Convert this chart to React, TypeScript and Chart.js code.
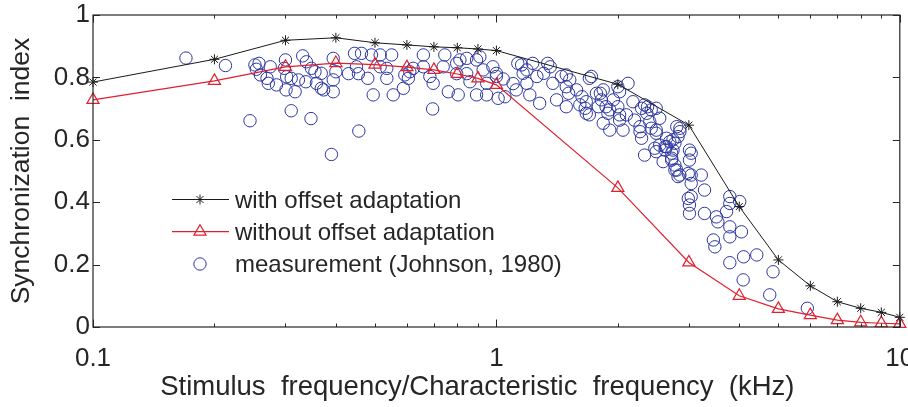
import React, { useEffect, useRef } from 'react';
import { Chart, registerables } from 'chart.js';

Chart.register(...registerables);

// ---------- data ----------
const modelFreq = [0.1, 0.2, 0.3, 0.4, 0.5, 0.6, 0.7, 0.8, 0.9, 1, 2, 3, 4, 5, 6, 7, 8, 9, 10];
const withOffset = [0.785, 0.858, 0.919, 0.927, 0.911, 0.904, 0.898, 0.895, 0.891, 0.886, 0.778, 0.647, 0.386, 0.215, 0.132, 0.081, 0.06, 0.047, 0.031];
const withoutOffset = [0.728, 0.789, 0.834, 0.846, 0.841, 0.833, 0.824, 0.811, 0.797, 0.776, 0.446, 0.207, 0.1, 0.058, 0.038, 0.022, 0.015, 0.012, 0.01];

const measFreq = [
  0.17, 0.213, 0.245, 0.31, 0.347, 0.456, 0.39, 0.695,
  0.252, 0.258, 0.254, 0.26, 0.275, 0.272, 0.285, 0.27, 0.3, 0.298, 0.302, 0.301, 0.317, 0.31, 0.323, 0.337,
  0.331, 0.338, 0.348, 0.355, 0.368, 0.358, 0.368, 0.373, 0.394, 0.394, 0.394,
  0.4, 0.43, 0.445, 0.463, 0.45, 0.455, 0.48, 0.49, 0.515, 0.515, 0.535, 0.535, 0.55, 0.555, 0.495, 0.588,
  0.593, 0.61, 0.605, 0.622, 0.659, 0.659, 0.684, 0.697, 0.745, 0.76, 0.738, 0.797, 0.797, 0.812, 0.804,
  0.844, 0.844, 0.86, 0.893, 0.91, 0.927, 0.946, 0.893, 0.946, 0.98, 1.0, 1.01,
  1.0, 1.04, 1.05, 1.1, 1.12, 1.13, 1.155, 1.165, 1.19, 1.19, 1.21, 1.23, 1.26, 1.28, 1.31, 1.34, 1.36,
  1.38, 1.41, 1.45, 1.49, 1.49, 1.51, 1.52, 1.49, 1.58, 1.61, 1.63, 1.67, 1.7, 1.77, 1.82, 1.84, 1.89, 1.91, 2.0,
  1.72, 1.67, 1.66, 1.7, 1.81, 1.79, 1.91, 1.95, 2.02, 2.02, 2.06, 2.12, 2.1, 2.18, 2.2, 2.27, 2.29, 2.33,
  2.36, 2.4, 2.42, 2.49, 2.49, 2.54, 2.29, 2.33, 2.54, 2.62, 2.64, 2.77, 2.72, 2.85, 2.82, 2.77, 2.85,
  3.01, 3.01, 3.04, 3.04,
  2.42, 2.49, 2.8, 2.85, 2.49, 2.62, 2.69, 2.74, 2.72, 2.59, 2.77, 2.82, 3.04, 3.04, 3.22, 3.28, 2.99, 3.01,
  3.01, 3.28, 3.51, 3.54, 3.72, 3.79, 3.79, 4.01, 3.79, 4.05, 3.79, 3.45, 3.48, 3.79, 4.1, 4.42, 4.85, 4.09,
  4.76, 5.9,
  2.0, 2.37, 2.27, 2.47, 2.64, 2.74, 2.72, 2.8, 2.99, 1.84, 1.87, 2.02
];
const measSync = [
  0.862, 0.838, 0.661, 0.693, 0.668, 0.628, 0.553, 0.699,
  0.84, 0.845, 0.826, 0.808, 0.834, 0.781, 0.776, 0.797, 0.856, 0.829, 0.802, 0.76, 0.754, 0.797, 0.792, 0.786,
  0.869, 0.85, 0.829, 0.818, 0.813, 0.781, 0.765, 0.76, 0.861, 0.792, 0.754,
  0.818, 0.812, 0.877, 0.877, 0.834, 0.812, 0.797, 0.872, 0.872, 0.834, 0.829, 0.797, 0.872, 0.744, 0.744, 0.765,
  0.808, 0.818, 0.797, 0.829, 0.872, 0.834, 0.803, 0.781, 0.872, 0.754, 0.834, 0.845, 0.812, 0.856, 0.744,
  0.861, 0.812, 0.786, 0.856, 0.866, 0.824, 0.781, 0.744, 0.744, 0.834, 0.803, 0.733,
  0.813, 0.795, 0.738, 0.78, 0.76, 0.845, 0.84, 0.813, 0.824, 0.781, 0.744, 0.845, 0.803, 0.717, 0.813, 0.845, 0.834,
  0.781, 0.728, 0.803, 0.808, 0.77, 0.749, 0.792, 0.706, 0.76, 0.712, 0.738, 0.685, 0.797, 0.749, 0.728, 0.653, 0.685, 0.631, 0.706,
  0.803, 0.722, 0.701, 0.68, 0.749, 0.706, 0.696, 0.728, 0.754, 0.663, 0.631, 0.781, 0.68, 0.722, 0.663, 0.626, 0.701, 0.712,
  0.685, 0.658, 0.696, 0.701, 0.631, 0.669, 0.605, 0.551, 0.583, 0.567, 0.605, 0.589, 0.557, 0.637, 0.61, 0.519, 0.487,
  0.567, 0.535, 0.46, 0.418,
  0.637, 0.621, 0.642, 0.626, 0.562, 0.578, 0.594, 0.567, 0.541, 0.53, 0.503, 0.482, 0.557, 0.487, 0.487, 0.439, 0.412, 0.391,
  0.364, 0.364, 0.353, 0.337, 0.37, 0.418, 0.396, 0.402, 0.321, 0.305, 0.289, 0.279, 0.257, 0.206, 0.225, 0.231, 0.177, 0.151,
  0.103, 0.06,
  0.77, 0.706, 0.642, 0.573, 0.578, 0.6, 0.535, 0.503, 0.492, 0.76, 0.706, 0.68
];

const yTicks = [0, 0.2, 0.4, 0.6, 0.8, 1];
const xMajorTicks = [0.1, 1, 10];
const xMinorTicks = [0.2, 0.3, 0.4, 0.5, 0.6, 0.7, 0.8, 0.9, 2, 3, 4, 5, 6, 7, 8, 9];
const legendLabels = ['with offset adaptation', 'without offset adaptation', 'measurement (Johnson, 1980)'];
const xTitle = 'Stimulus  frequency/Characteristic  frequency  (kHz)';
const yTitle = 'Synchronization  index';

// ---------- styles ----------
const FONT = "'Liberation Sans', Arial, sans-serif";
const TEXT = '#262626';
const AXIS = '#262626';
const BLACK = '#1a1a1a';
const RED = '#e0202e';
const BLUE = '#2b35a0';

function drawStar(ctx: CanvasRenderingContext2D, x: number, y: number, r: number) {
  ctx.beginPath();
  for (let i = 0; i < 4; i++) {
    const a = (i * Math.PI) / 4;
    ctx.moveTo(x - Math.cos(a) * r, y - Math.sin(a) * r);
    ctx.lineTo(x + Math.cos(a) * r, y + Math.sin(a) * r);
  }
  ctx.stroke();
}
function drawTriangle(ctx: CanvasRenderingContext2D, x: number, y: number, r: number) {
  ctx.beginPath();
  for (let i = 0; i < 3; i++) {
    const a = (i * 2 * Math.PI) / 3;
    const px = x + Math.sin(a) * r;
    const py = y - Math.cos(a) * r;
    if (i === 0) ctx.moveTo(px, py);
    else ctx.lineTo(px, py);
  }
  ctx.closePath();
  ctx.stroke();
}

const framePlugin = {
  id: 'frame',
  afterDraw(chart: any) {
    const { ctx, chartArea: a, scales } = chart;
    const xs = scales.x;
    const ys = scales.y;
    ctx.save();
    ctx.strokeStyle = AXIS;
    ctx.lineWidth = 1.2;
    ctx.strokeRect(a.left, a.top, a.right - a.left, a.bottom - a.top);
    ctx.lineWidth = 1;
    ctx.beginPath();
    yTicks.forEach((v) => {
      const py = Math.round(ys.getPixelForValue(v)) + 0.5;
      ctx.moveTo(a.left, py);
      ctx.lineTo(a.left + 7, py);
      ctx.moveTo(a.right, py);
      ctx.lineTo(a.right - 7, py);
    });
    xMajorTicks.forEach((v) => {
      const px = Math.round(xs.getPixelForValue(v)) + 0.5;
      ctx.moveTo(px, a.bottom);
      ctx.lineTo(px, a.bottom - 7.5);
      ctx.moveTo(px, a.top);
      ctx.lineTo(px, a.top + 7.5);
    });
    xMinorTicks.forEach((v) => {
      const px = Math.round(xs.getPixelForValue(v)) + 0.5;
      ctx.moveTo(px, a.bottom);
      ctx.lineTo(px, a.bottom - 3.5);
      ctx.moveTo(px, a.top);
      ctx.lineTo(px, a.top + 3.5);
    });
    ctx.stroke();
    ctx.restore();
  },
};

const legendPlugin = {
  id: 'insideLegend',
  afterDatasetsDraw(chart: any) {
    const { ctx, chartArea: a } = chart;
    const x0 = a.left + 79;
    const x1 = a.left + 136;
    const xm = a.left + 107;
    const xt = a.left + 142;
    const rows = [a.top + 184.5, a.top + 216.7, a.top + 249];
    ctx.save();
    // row 1
    ctx.strokeStyle = BLACK;
    ctx.lineWidth = 1;
    ctx.beginPath();
    ctx.moveTo(x0, rows[0]);
    ctx.lineTo(x1, rows[0]);
    ctx.stroke();
    drawStar(ctx, xm, rows[0], 5);
    // row 2
    ctx.strokeStyle = RED;
    ctx.lineWidth = 1.2;
    ctx.beginPath();
    ctx.moveTo(x0, rows[1]);
    ctx.lineTo(x1, rows[1]);
    ctx.stroke();
    drawTriangle(ctx, xm, rows[1], 7);
    // row 3
    ctx.strokeStyle = BLUE;
    ctx.lineWidth = 1;
    ctx.beginPath();
    ctx.arc(xm, rows[2], 6.2, 0, Math.PI * 2);
    ctx.stroke();
    ctx.fillStyle = TEXT;
    ctx.font = `24px ${FONT}`;
    ctx.textAlign = 'left';
    ctx.textBaseline = 'middle';
    legendLabels.forEach((t, i) => ctx.fillText(t, xt, rows[i] + 1.5));
    ctx.restore();
  },
};

export default function App() {
  const ref = useRef<HTMLCanvasElement | null>(null);
  useEffect(() => {
    if (!ref.current) return;
    const chart = new Chart(ref.current, {
      type: 'scatter',
      data: {
        datasets: [
          {
            label: legendLabels[0],
            data: modelFreq.map((f, i) => ({ x: f, y: withOffset[i] })),
            showLine: true,
            borderColor: BLACK,
            backgroundColor: BLACK,
            borderWidth: 1,
            pointStyle: 'star',
            pointRadius: 5,
            pointBorderWidth: 1,
            pointBorderColor: BLACK,
            clip: false as any,
          },
          {
            label: legendLabels[1],
            data: modelFreq.map((f, i) => ({ x: f, y: withoutOffset[i] })),
            showLine: true,
            borderColor: RED,
            backgroundColor: 'rgba(0,0,0,0)',
            borderWidth: 1.2,
            pointStyle: 'triangle',
            pointRadius: 7,
            pointBorderWidth: 1.2,
            pointBorderColor: RED,
            clip: false as any,
          },
          {
            label: legendLabels[2],
            data: measFreq.map((f, i) => ({ x: f, y: measSync[i] })),
            showLine: false,
            borderColor: BLUE,
            backgroundColor: 'rgba(0,0,0,0)',
            pointStyle: 'circle',
            pointRadius: 6.2,
            pointBorderWidth: 1,
            pointBorderColor: BLUE,
            clip: false as any,
          },
        ],
      },
      options: {
        responsive: false,
        animation: false,
        events: [],
        layout: { padding: { left: 0, right: 8, top: 15, bottom: 0 } },
        plugins: { legend: { display: false }, tooltip: { enabled: false } },
        scales: {
          x: {
            type: 'logarithmic',
            min: 0.1,
            max: 10,
            grid: { display: false, drawTicks: false },
            border: { display: false },
            afterBuildTicks: (scale: any) => {
              scale.ticks = xMajorTicks.map((v) => ({ value: v }));
            },
            afterFit: (scale: any) => {
              scale.height = 80;
              scale.paddingLeft = 0;
              scale.paddingRight = 0;
            },
            ticks: {
              autoSkip: false,
              maxRotation: 0,
              padding: 16,
              color: TEXT,
              font: { family: FONT, size: 26, lineHeight: 1.2 },
              callback: (v: any) => String(v),
            },
            title: {
              display: true,
              // trailing spaces shift the centred title slightly left, as in the reference
              text: xTitle + '\u00a0\u00a0\u00a0\u00a0\u00a0',
              color: TEXT,
              font: { family: FONT, size: 27.5, lineHeight: 1.2 },
              padding: { top: 0, bottom: 3.5 },
            },
          },
          y: {
            type: 'linear',
            min: 0,
            max: 1,
            grid: { display: false, drawTicks: false },
            border: { display: false },
            afterBuildTicks: (scale: any) => {
              scale.ticks = yTicks.map((v) => ({ value: v }));
            },
            afterFit: (scale: any) => {
              scale.width = 93;
              scale.paddingTop = 0;
              scale.paddingBottom = 0;
            },
            ticks: {
              padding: 3,
              color: TEXT,
              font: { family: FONT, size: 26, lineHeight: 1.2 },
              callback: (v: any) => String(v),
            },
            title: {
              display: true,
              text: yTitle,
              color: TEXT,
              font: { family: FONT, size: 26.5, lineHeight: 1.2 },
              padding: { top: 6, bottom: 0 },
            },
          },
        },
      },
      plugins: [framePlugin, legendPlugin],
    });
    return () => chart.destroy();
  }, []);
  return (
    <div style={{ position: 'absolute', left: 0, top: 0, width: 908, height: 407, background: '#fff' }}>
      <canvas ref={ref} width={908} height={407} style={{ display: 'block' }} />
    </div>
  );
}
